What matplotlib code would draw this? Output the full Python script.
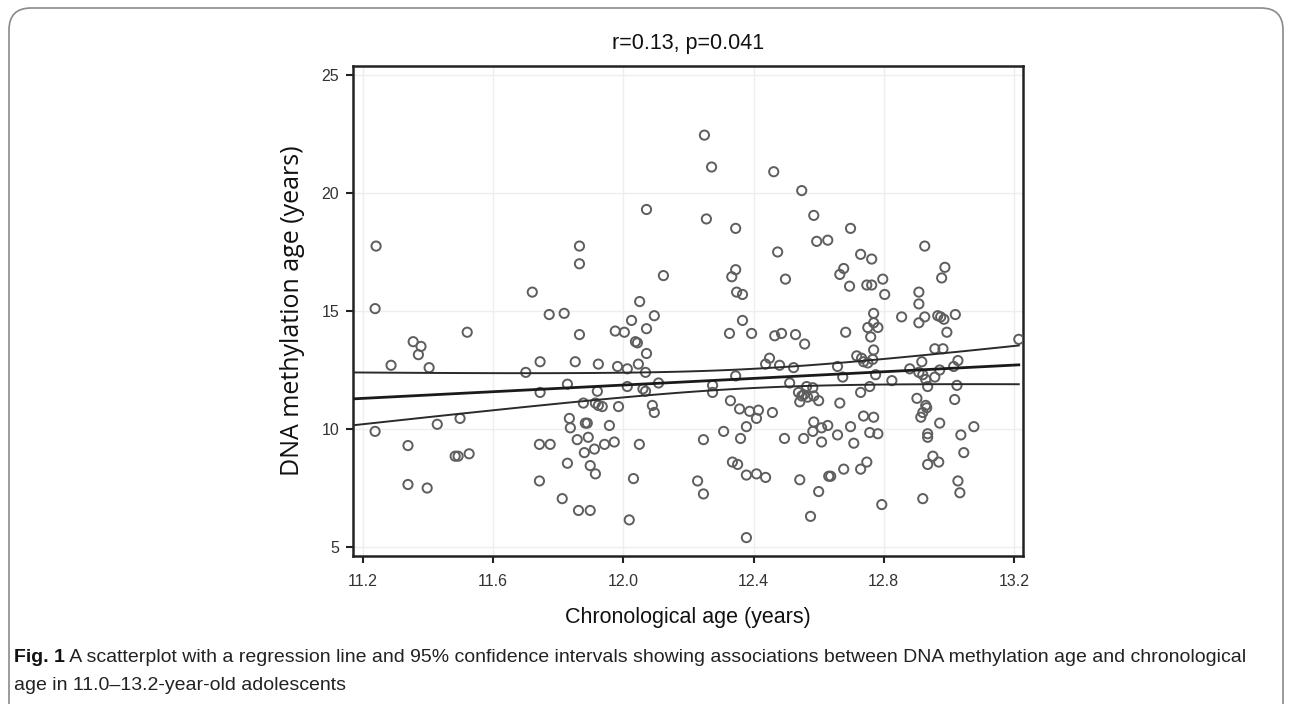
import numpy as np
import matplotlib
matplotlib.use('Agg')
import matplotlib.pyplot as plt
from matplotlib.patches import FancyBboxPatch

# chronological age (x) and DNA methylation age (y)
chrono_age = [
    11.240, 11.237, 11.286, 11.237, 11.520, 11.354, 11.378, 11.370, 11.403, 11.700,
    11.428, 11.498, 11.338, 11.483, 11.492, 11.526, 11.338, 11.397, 11.744, 11.744,
    11.742, 11.742, 11.720, 11.865, 11.865, 12.249, 12.271, 12.071, 12.255, 12.345,
    12.123, 12.345, 12.333, 12.348, 12.366, 12.050, 12.462, 12.548, 12.585, 12.594,
    12.628, 12.474, 12.498, 11.772, 11.818, 12.025, 12.095, 11.865, 11.975, 12.003,
    12.071, 12.037, 12.043, 12.071, 11.852, 11.923, 11.982, 12.012, 12.046, 12.068,
    11.828, 12.012, 11.920, 12.060, 12.068, 12.108, 11.877, 11.914, 11.923, 11.935,
    11.985, 12.089, 12.095, 11.834, 11.837, 11.883, 11.889, 11.957, 11.858, 11.892,
    11.775, 11.942, 11.972, 11.911, 11.880, 12.049, 11.828, 11.898, 11.914, 12.031,
    11.812, 11.862, 11.898, 12.018, 12.326, 12.366, 12.394, 12.465, 12.486, 12.529,
    12.557, 12.449, 12.437, 12.480, 12.523, 12.345, 12.274, 12.274, 12.511, 12.329,
    12.357, 12.388, 12.415, 12.409, 12.378, 12.458, 12.308, 12.360, 12.246, 12.495,
    12.554, 12.335, 12.351, 12.378, 12.409, 12.437, 12.228, 12.246, 12.542, 12.600,
    12.575, 12.378, 12.538, 12.548, 12.554, 12.566, 12.542, 12.563, 12.582, 12.585,
    12.600, 12.585, 12.582, 12.609, 12.609, 12.628, 12.631, 12.698, 12.729, 12.763,
    12.677, 12.665, 12.695, 12.748, 12.763, 12.797, 12.803, 12.926, 12.988, 12.978,
    12.908, 12.908, 12.769, 12.855, 12.908, 12.926, 12.966, 12.975, 12.985, 13.020,
    12.994, 12.769, 12.782, 12.751, 12.760, 12.683, 12.769, 12.717, 12.732, 12.738,
    12.751, 12.766, 12.658, 12.674, 12.775, 12.757, 12.729, 12.825, 12.957, 12.982,
    12.917, 12.880, 12.908, 12.920, 12.929, 12.957, 12.972, 13.015, 13.028, 12.935,
    13.025, 12.902, 13.018, 12.929, 12.932, 12.920, 12.914, 12.665, 12.738, 12.769,
    12.698, 12.658, 12.708, 12.757, 12.782, 12.972, 12.935, 12.935, 13.077, 13.037,
    13.046, 12.951, 12.935, 12.969, 12.748, 12.729, 12.677, 12.637, 13.028, 13.034,
    12.920, 12.794, 13.215,
]
dnam_age = [
    17.75, 15.10, 12.70, 9.90, 14.10, 13.70, 13.50, 13.15, 12.60, 12.40,
    10.20, 10.45, 9.30, 8.85, 8.85, 8.95, 7.65, 7.50, 12.85, 11.55,
    9.35, 7.80, 15.80, 17.75, 17.00, 22.45, 21.10, 19.30, 18.90, 18.50,
    16.50, 16.75, 16.45, 15.80, 15.70, 15.40, 20.90, 20.10, 19.05, 17.95,
    18.00, 17.50, 16.35, 14.85, 14.90, 14.60, 14.80, 14.00, 14.15, 14.10,
    14.25, 13.70, 13.65, 13.20, 12.85, 12.75, 12.65, 12.55, 12.75, 12.40,
    11.90, 11.80, 11.60, 11.70, 11.60, 11.95, 11.10, 11.10, 11.00, 10.95,
    10.95, 11.00, 10.70, 10.45, 10.05, 10.25, 10.25, 10.15, 9.55, 9.65,
    9.35, 9.35, 9.45, 9.15, 9.00, 9.35, 8.55, 8.45, 8.10, 7.90,
    7.05, 6.55, 6.55, 6.15, 14.05, 14.60, 14.05, 13.95, 14.05, 14.00,
    13.60, 13.00, 12.75, 12.70, 12.60, 12.25, 11.85, 11.55, 11.95, 11.20,
    10.85, 10.75, 10.80, 10.45, 10.10, 10.70, 9.90, 9.60, 9.55, 9.60,
    9.60, 8.60, 8.50, 8.05, 8.10, 7.95, 7.80, 7.25, 7.85, 7.35,
    6.30, 5.40, 11.55, 11.40, 11.45, 11.35, 11.15, 11.80, 11.75, 11.40,
    11.20, 10.30, 9.90, 10.05, 9.45, 10.15, 8.00, 18.50, 17.40, 17.20,
    16.80, 16.55, 16.05, 16.10, 16.10, 16.35, 15.70, 17.75, 16.85, 16.40,
    15.80, 15.30, 14.90, 14.75, 14.50, 14.75, 14.80, 14.75, 14.65, 14.85,
    14.10, 14.50, 14.30, 14.30, 13.90, 14.10, 13.35, 13.10, 13.00, 12.85,
    12.80, 12.95, 12.65, 12.20, 12.30, 11.80, 11.55, 12.05, 13.40, 13.40,
    12.85, 12.55, 12.40, 12.30, 12.10, 12.20, 12.50, 12.65, 12.90, 11.80,
    11.85, 11.30, 11.25, 11.00, 10.90, 10.70, 10.50, 11.10, 10.55, 10.50,
    10.10, 9.75, 9.40, 9.85, 9.80, 10.25, 9.80, 9.65, 10.10, 9.75,
    9.00, 8.85, 8.50, 8.60, 8.60, 8.30, 8.30, 8.00, 7.80, 7.30,
    7.05, 6.80, 13.80,
]
title_text = 'r=0.13, p=0.041'
x_ticks = [11.2, 11.6, 12.0, 12.4, 12.8, 13.2]
y_ticks = [5, 10, 15, 20, 25]
caption_bold = 'Fig. 1'
caption_rest = (' A scatterplot with a regression line and 95% confidence intervals showing '
                'associations between DNA methylation age and chronological')
caption_line2 = 'age in 11.0\u201313.2-year-old adolescents'

x = np.array(chrono_age)
y = np.array(dnam_age)

# least squares fit with 95% CI of the mean
n = len(x)
slope, intercept = np.polyfit(x, y, 1)
resid = y - (slope * x + intercept)
s = np.sqrt(np.sum(resid ** 2) / (n - 2))
xx = np.linspace(11.169, 13.215, 100)
yy = slope * xx + intercept
se = s * np.sqrt(1.0 / n + (xx - x.mean()) ** 2 / np.sum((x - x.mean()) ** 2))
t = 1.97
lo = yy - t * se
hi = yy + t * se

fig = plt.figure(figsize=(12.92, 7.04), dpi=100)
ax = fig.add_axes([0.2732, 0.2102, 0.5186, 0.6961])

ax.scatter(x, y, s=44, facecolors='none', edgecolors='#5e5e5e', linewidths=1.4, zorder=3)
ax.plot(xx, yy, color='#1a1a1a', lw=2.0, zorder=4)
ax.plot(xx, lo, color='#2a2a2a', lw=1.4, zorder=4)
ax.plot(xx, hi, color='#2a2a2a', lw=1.4, zorder=4)

ax.set_xlim(11.169, 13.228)
ax.set_ylim(4.62, 25.38)
ax.set_xticks(x_ticks)
ax.set_xticklabels(['%.1f' % v for v in x_ticks])
ax.set_yticks(y_ticks)
ax.grid(True, color='#eeeeee', lw=1.0, zorder=0)
ax.set_axisbelow(True)
for sp in ax.spines.values():
    sp.set_linewidth(1.8)
    sp.set_color('#222222')
ax.tick_params(axis='both', length=5, width=1.5, color='#222222', labelsize=11.5,
               labelcolor='#333333', pad=5)
ax.tick_params(axis='x', pad=8)
for lab in ax.get_xticklabels() + ax.get_yticklabels():
    lab.set_family('Liberation Sans')

ax.set_title(title_text, fontsize=15.5, family='Liberation Sans', color='#111111', pad=12)
ax.set_xlabel('Chronological age (years)', fontsize=15.5, family='Liberation Sans',
              color='#111111', labelpad=13)
ax.set_ylabel('DNA methylation age (years)', fontsize=18, family='Open Sans',
              color='#111111', labelpad=12)

# rounded frame round the whole figure (runs off the bottom edge)
frame = FancyBboxPatch((0.09, -1.0), 12.74, 7.96,
                       boxstyle='round,pad=0,rounding_size=0.22',
                       transform=fig.dpi_scale_trans, fill=False,
                       edgecolor='#8a8a8a', lw=1.2)
fig.patches.append(frame)

cap_font = 'Liberation Sans'
cap_size = 14.0
t1 = fig.text(14 / 1292, 1 - 657 / 704, caption_bold, fontsize=cap_size, weight='bold',
              family=cap_font, color='#111111', va='center', ha='left')
fig.canvas.draw()
bb = t1.get_window_extent()
fig.text(bb.x1 / 1292, 1 - 657 / 704, caption_rest, fontsize=cap_size, family=cap_font,
         color='#222222', va='center', ha='left')
fig.text(14 / 1292, 1 - 686 / 704, caption_line2, fontsize=cap_size, family=cap_font,
         color='#222222', va='center', ha='left')

fig.savefig('out.png', dpi=100)
